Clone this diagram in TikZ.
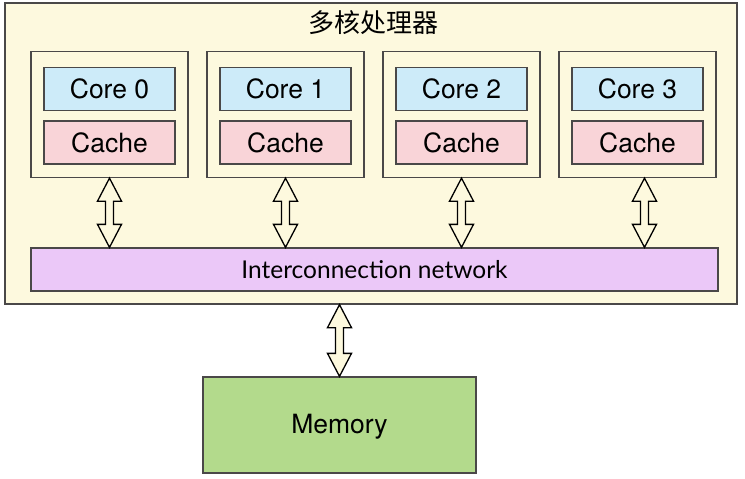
\documentclass[tikz,border=0pt]{standalone}
\usepackage{fontspec}
\setmainfont{TeX Gyre Heros}
\newfontfamily\cjkfont{Noto Sans CJK SC}
\newfontfamily\netfont{Lato}
\usetikzlibrary{calc}

\definecolor{chipbg}{HTML}{FDF9DE}
\definecolor{corebg}{HTML}{CDEBF9}
\definecolor{cachebg}{HTML}{F9D4D8}
\definecolor{netbg}{HTML}{EBC8F8}
\definecolor{membg}{HTML}{B3DA8C}
\definecolor{edge}{HTML}{4A4848}

\tikzset{
  box/.style={draw=edge, line width=1.3pt, inner sep=0pt},
  unit/.style={box, fill=chipbg, minimum width=157pt, minimum height=126pt},
  part/.style={box, minimum width=131pt, minimum height=43pt,
    font=\fontsize{26.5}{26.5}\selectfont},
  dblarr/.style={draw=black, line width=1.3pt, fill=chipbg, line join=miter},
}

\newcommand{\dblarrow}[2]{%
  \path[dblarr] let \p1=(#1), \p2=(#2) in
    (\x1,\y1) -- (\x1+12pt,\y1-23pt) -- (\x1+4pt,\y1-23pt)
    -- (\x1+4pt,\y2+23pt) -- (\x1+12pt,\y2+23pt) -- (\x1,\y2)
    -- (\x1-12pt,\y2+23pt) -- (\x1-4pt,\y2+23pt)
    -- (\x1-4pt,\y1-23pt) -- (\x1-12pt,\y1-23pt) -- cycle;}

\begin{document}
\begin{tikzpicture}[x=1pt, y=-1pt]
  \useasboundingbox (0,0) rectangle (745,479);

  \node[box, fill=chipbg, minimum width=732pt, minimum height=301pt] (chip) at (371,153.5) {};
  \node[font=\fontsize{26}{26}\selectfont] (title) at (373,23) {\cjkfont 多核处理器};

  \foreach \i in {0,...,3}{
    \node[unit] (u\i) at ({109.5+176*\i},114.5) {};
    \node[part, fill=corebg] (core\i) at ({109.5+176*\i},89) {Core \i};
    \node[part, fill=cachebg] (cache\i) at ({109.5+176*\i},142.5) {Cache};
  }

  \node[box, fill=netbg, minimum width=687pt, minimum height=43pt,
    font=\netfont\fontsize{24.5}{24.5}\selectfont] (net) at (374.5,269.5) {Interconnection network};

  \node[box, fill=membg, minimum width=273pt, minimum height=96pt,
    font=\fontsize{26.5}{26.5}\selectfont, text depth=2pt] (mem) at (339.5,425) {Memory};

  \foreach \i/\dx in {0/0,1/0,2/0,3/7}{
    \coordinate (top\i) at ($(u\i.south)+(\dx,0)$);
    \dblarrow{top\i}{top\i |- net.north};
  }
  \dblarrow{mem.north |- chip.south}{mem.north};
\end{tikzpicture}
\end{document}
